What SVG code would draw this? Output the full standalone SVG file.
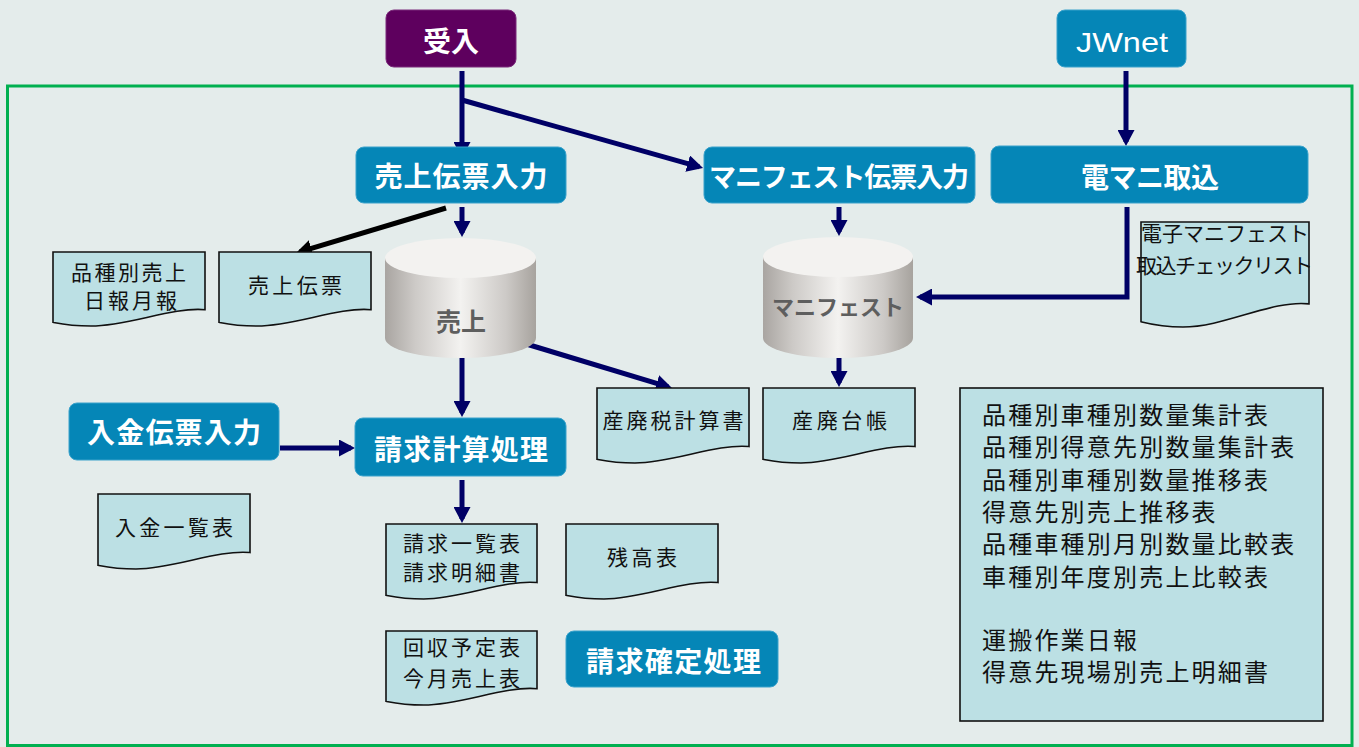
<svg xmlns="http://www.w3.org/2000/svg" width="1359" height="747" viewBox="0 0 1359 747">
<defs>
<style>
.bx{fill:#0586b7;stroke:#3aa2cb;stroke-width:1}
.bt{font-family:"Noto Sans CJK JP","Noto Sans",sans-serif;font-weight:bold;fill:#ffffff;text-anchor:middle}
.doc{fill:#bce0e4;stroke:#111;stroke-width:1.6}
.dt{font-family:"Noto Sans CJK JP",sans-serif;font-size:21px;fill:#111;text-anchor:middle}
.lt{font-family:"Noto Sans CJK JP",sans-serif;font-size:24px;fill:#111;letter-spacing:2.2px}
.cy{font-family:"Noto Sans CJK JP",sans-serif;font-weight:bold;fill:#5e5e5e;text-anchor:middle}
.cn{fill:none;stroke:#000066;stroke-width:5}
</style>
<linearGradient id="cg" x1="0" y1="0" x2="1" y2="0">
<stop offset="0" stop-color="#a9a5a1"/>
<stop offset="0.2" stop-color="#cdcac7"/>
<stop offset="0.5" stop-color="#f3f2f0"/>
<stop offset="0.8" stop-color="#cdcac7"/>
<stop offset="1" stop-color="#a7a39e"/>
</linearGradient>
<marker id="ah" markerUnits="userSpaceOnUse" markerWidth="16" markerHeight="17" refX="12" refY="8.5" orient="auto">
<path d="M0,0 L16,8.5 L0,17 Z" fill="#000066"/>
</marker>
<marker id="ahk" markerUnits="userSpaceOnUse" markerWidth="16" markerHeight="17" refX="12" refY="8.5" orient="auto">
<path d="M0,0 L16,8.5 L0,17 Z" fill="#000000"/>
</marker>
</defs>
<rect x="0" y="0" width="1359" height="747" fill="#e4eceb"/>
<rect x="7.5" y="86" width="1344.5" height="659.5" fill="none" stroke="#00b050" stroke-width="3"/>

<g id="connectors">
<path class="cn" d="M462,71 V154" marker-end="url(#ah)"/>
<path class="cn" d="M462,100 L699.2,166.9" marker-end="url(#ah)"/>
<path class="cn" d="M462,207 V233" marker-end="url(#ah)"/>
<path d="M446,208 L299.8,251.9" fill="none" stroke="#000" stroke-width="5" marker-end="url(#ahk)"/>
<path class="cn" d="M462,358 V413" marker-end="url(#ah)"/>
<path class="cn" d="M523,343 L668.2,386.8" marker-end="url(#ah)"/>
<path class="cn" d="M280,448 H351" marker-end="url(#ah)"/>
<path class="cn" d="M462,480 V519" marker-end="url(#ah)"/>
<path class="cn" d="M839,207 V232" marker-end="url(#ah)"/>
<path class="cn" d="M839,358 V383" marker-end="url(#ah)"/>
<path class="cn" d="M1126,71 V142" marker-end="url(#ah)"/>
<path class="cn" d="M1127,207 V297 H920" marker-end="url(#ah)"/>
</g>

<g id="n-ukeire"><rect x="386" y="10" width="130" height="57" rx="8" fill="#5e005e" stroke="#7a2a7a" stroke-width="1"/><text class="bt" x="451" y="51.5" font-size="28">受入</text></g>
<g id="n-jwnet"><rect class="bx" x="1057" y="10" width="129" height="57" rx="8"/><text x="1122" y="52" font-family="Liberation Sans,Arial,sans-serif" font-size="28" fill="#fff" text-anchor="middle" textLength="92" lengthAdjust="spacingAndGlyphs">JWnet</text></g>
<g id="n-uriage-input"><rect class="bx" x="356" y="147" width="210" height="56" rx="8"/><text class="bt" x="461" y="187" font-size="28" textLength="173">売上伝票入力</text></g>
<g id="n-manifest-input"><rect class="bx" x="704" y="147" width="271" height="56" rx="8"/><text class="bt" x="839" y="187" font-size="27" textLength="260">マニフェスト伝票入力</text></g>
<g id="n-denmani"><rect class="bx" x="991" y="146" width="317" height="57" rx="8"/><text class="bt" x="1150" y="188" font-size="28" textLength="138">電マニ取込</text></g>
<g id="n-nyukin-input"><rect class="bx" x="69" y="403" width="210" height="57" rx="8"/><text class="bt" x="174" y="443" font-size="28" textLength="174">入金伝票入力</text></g>
<g id="n-seikyu-calc"><rect class="bx" x="355" y="418" width="211" height="58" rx="8"/><text class="bt" x="461" y="460" font-size="28" textLength="174">請求計算処理</text></g>
<g id="n-seikyu-kakutei"><rect class="bx" x="566" y="631" width="212" height="56" rx="8"/><text class="bt" x="673.5" y="672" font-size="28" textLength="175">請求確定処理</text></g>

<g id="n-db-uriage">
<path d="M385,258 V338 A75.5,20 0 0 0 536,338 V258 Z" fill="url(#cg)"/>
<ellipse cx="460.5" cy="258" rx="75.5" ry="20" fill="#f3f2f0"/>
<text class="cy" x="461" y="331" font-size="25" textLength="50">売上</text>
</g>
<g id="n-db-manifest">
<path d="M763,257 V338 A75,20 0 0 0 913,338 V257 Z" fill="url(#cg)"/>
<ellipse cx="838" cy="257" rx="75" ry="20" fill="#f3f2f0"/>
<text class="cy" x="838" y="315" font-size="22" textLength="132">マニフェスト</text>
</g>

<g id="d-hinshu"><path class="doc" d="M53,252 H205 V309.7 C171.6,306.8 129,326 91,326 C71.2,326 60.6,323.8 53,322.3 Z"/>
<text class="dt" x="128.5" y="280" textLength="115">品種別売上</text><text class="dt" x="130.5" y="308" textLength="93">日報月報</text></g>
<g id="d-uriage-denpyo"><path class="doc" d="M219,252 H371 V309.7 C337.6,306.8 295,326 257,326 C237.2,326 226.6,323.8 219,322.3 Z"/>
<text class="dt" x="295" y="293" textLength="94">売上伝票</text></g>
<g id="d-sanpaizei"><path class="doc" d="M597,388 H749 V446.5 C715.6,443.5 673,463 635,463 C615.2,463 604.6,460.75 597,459.25 Z"/>
<text class="dt" x="673" y="428" textLength="141">産廃税計算書</text></g>
<g id="d-sanpai-daicho"><path class="doc" d="M763,388 H915 V446.5 C881.6,443.5 839,463 801,463 C781.2,463 770.6,460.75 763,459.25 Z"/>
<text class="dt" x="839.5" y="428" textLength="95">産廃台帳</text></g>
<g id="d-checklist"><path class="doc" d="M1141,222 H1309 V303.9 C1272,299.7 1225,327 1183,327 C1161.2,327 1149.4,323.85 1141,321.75 Z"/>
<text class="dt" x="1225" y="241" textLength="168">電子マニフェスト</text><text class="dt" x="1224.5" y="273" textLength="177">取込チェックリスト</text></g>
<g id="d-nyukin"><path class="doc" d="M98,494 H250 V552.5 C216.6,549.5 174,569 136,569 C116.2,569 105.6,566.75 98,565.25 Z"/>
<text class="dt" x="174" y="535" textLength="118">入金一覧表</text></g>
<g id="d-seikyu"><path class="doc" d="M386,524 H537 V582.5 C503.8,579.5 461.5,599 423.75,599 C404.1,599 393.55,596.75 386,595.25 Z"/>
<text class="dt" x="461.5" y="551" textLength="117">請求一覧表</text><text class="dt" x="461.5" y="580" textLength="117">請求明細書</text></g>
<g id="d-zandaka"><path class="doc" d="M566,524 H718 V582.5 C684.6,579.5 642,599 604,599 C584.2,599 573.6,596.75 566,595.25 Z"/>
<text class="dt" x="642" y="565" textLength="70">残高表</text></g>
<g id="d-kaishu"><path class="doc" d="M386,631 H537 V688.7 C503.8,685.8 461.5,705 423.75,705 C404.1,705 393.55,702.8 386,701.3 Z"/>
<text class="dt" x="461.5" y="655" textLength="117">回収予定表</text><text class="dt" x="461.5" y="686" textLength="117">今月売上表</text></g>

<g id="d-reports">
<rect x="960" y="388" width="363" height="333" fill="#bce0e4" stroke="#111" stroke-width="1.6"/>
<text class="lt" x="982" y="423.5">品種別車種別数量集計表</text>
<text class="lt" x="982" y="456">品種別得意先別数量集計表</text>
<text class="lt" x="982" y="488.5">品種別車種別数量推移表</text>
<text class="lt" x="982" y="520.5">得意先別売上推移表</text>
<text class="lt" x="982" y="553">品種車種別月別数量比較表</text>
<text class="lt" x="982" y="585.5">車種別年度別売上比較表</text>
<text class="lt" x="982" y="648.5">運搬作業日報</text>
<text class="lt" x="982" y="680.5">得意先現場別売上明細書</text>
</g>
</svg>
